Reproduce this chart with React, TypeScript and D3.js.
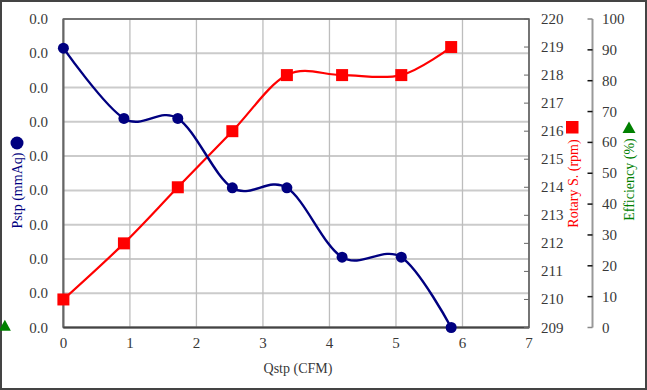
import * as d3 from "d3";

// flow rate (CFM) for each measuring point
const qstp = [0, 0.91, 1.72, 2.54, 3.36, 4.19, 5.08, 5.83];
// static pressure (mmAq) - axis labels all round to 0.0
const pstp = [0.0326, 0.0244, 0.0244, 0.0163, 0.0163, 0.0082, 0.0082, 0];
// rotary speed (rpm)
const rpm = [210, 212, 214, 216, 218, 218, 218, 219];
// efficiency (%) - only a stray point left of the axis
const effQ = [-0.88];
const effValues = [0.6];

const xTicks = [0, 1, 2, 3, 4, 5, 6, 7];
const pTicks = d3.range(0, 10).map((i) => i * 0.004);
const rpmTicks = d3.range(209, 221, 1);
const effTicks = d3.range(0, 101, 10);

const W = 647;
const H = 390;
const left = 63.4;
const right = 529;
const top = 19;
const bottom = 327.5;
const font = "'Liberation Serif', serif";
const textColor = "#383838";

const App = () => {
  const x = d3.scaleLinear().domain([0, 7]).range([left, right]);
  const yP = d3.scaleLinear().domain([0, 0.036]).range([bottom, top]);
  const yR = d3.scaleLinear().domain([209, 220]).range([bottom, top]);
  const yE = d3.scaleLinear().domain([0, 100]).range([bottom, top]);

  const smooth = d3.curveCardinal.tension(0);
  const pLine = d3
    .line<number>()
    .x((_, i) => x(qstp[i]))
    .y((d) => yP(d))
    .curve(smooth);
  const rLine = d3
    .line<number>()
    .x((_, i) => x(qstp[i]))
    .y((d) => yR(d))
    .curve(smooth);

  const effAxisX = 592.5;
  const ts = { fontFamily: font, fontSize: 15 };
  const titleStyle = { fontFamily: font, fontSize: 14 };

  return (
    <svg
      width={W}
      height={H}
      style={{ position: "absolute", left: 0, top: 0, background: "#fff", fontFamily: font }}
    >
      <rect x={1} y={1} width={W - 2} height={H - 2} fill="#fff" stroke="#444" strokeWidth={2} />

      {/* grid */}
      {pTicks.map((t) => (
        <line key={"h" + t} x1={left} x2={right} y1={yP(t)} y2={yP(t)} stroke="#cbcbcb" strokeWidth={2} />
      ))}
      {xTicks.map((t) => (
        <line key={"v" + t} x1={x(t)} x2={x(t)} y1={top} y2={bottom} stroke="#bdbdbd" strokeWidth={1.3} />
      ))}

      {/* plot frame */}
      <rect x={left} y={top} width={right - left} height={bottom - top} fill="none" stroke="#555" strokeWidth={1.5} />
      <line x1={left} x2={left} y1={top} y2={bottom} stroke="#666" strokeWidth={2} />
      <line x1={left} x2={right} y1={bottom} y2={bottom} stroke="#444" strokeWidth={2} />

      {/* left axis labels */}
      {pTicks.map((t) => (
        <text key={"pl" + t} x={48} y={yP(t) + 5} textAnchor="end" style={ts} fill={textColor}>
          {d3.format(".1f")(t)}
        </text>
      ))}

      {/* bottom axis labels */}
      {xTicks.map((t) => (
        <text key={"xl" + t} x={x(t)} y={348} textAnchor="middle" style={ts} fill={textColor}>
          {t}
        </text>
      ))}
      <text x={298} y={373} textAnchor="middle" style={titleStyle} fill={textColor}>
        Qstp (CFM)
      </text>

      {/* rpm axis */}
      {rpmTicks.map((t) => (
        <g key={"r" + t}>
          <line x1={right - 5} x2={right} y1={yR(t)} y2={yR(t)} stroke="#666" strokeWidth={1} />
          <text x={541} y={yR(t) + 5} style={ts} fill={textColor}>
            {t}
          </text>
        </g>
      ))}

      {/* efficiency axis */}
      <line x1={effAxisX} x2={effAxisX} y1={top} y2={bottom} stroke="#999" strokeWidth={2} />
      {effTicks.map((t) => (
        <g key={"e" + t}>
          <line x1={effAxisX - 5} x2={effAxisX} y1={yE(t)} y2={yE(t)} stroke={t % 100 === 0 ? "#888" : "#111"} strokeWidth={1.5} />
          <text x={602} y={yE(t) + 5} style={ts} fill={textColor}>
            {t}
          </text>
        </g>
      ))}

      {/* axis titles with markers */}
      <text transform="translate(17,190.5) rotate(-90)" dy="0.35em" textAnchor="middle" style={titleStyle} fill="#000080">
        Pstp (mmAq)
      </text>
      <circle cx={17} cy={143} r={6.5} fill="#000080" />

      <text transform="translate(573,183.5) rotate(-90)" dy="0.35em" textAnchor="middle" style={titleStyle} fill="#ff0000">
        Rotary S. (rpm)
      </text>
      <rect x={566} y={121} width={12.5} height={12.5} fill="#ff0000" />

      <text transform="translate(629,179.5) rotate(-90)" dy="0.35em" textAnchor="middle" style={titleStyle} fill="#008000">
        Efficiency (%)
      </text>
      <path d="M629,121.5 L635.5,133 L622.5,133 Z" fill="#008000" />

      {/* series */}
      <path d={rLine(rpm) ?? ""} fill="none" stroke="#ff0000" strokeWidth={2.2} />
      <path d={pLine(pstp) ?? ""} fill="none" stroke="#000080" strokeWidth={2.4} />
      {rpm.map((v, i) => (
        <rect key={"rs" + i} x={x(qstp[i]) - 6} y={yR(v) - 6} width={12} height={12} fill="#ff0000" />
      ))}
      {pstp.map((v, i) => (
        <circle key={"pc" + i} cx={x(qstp[i])} cy={yP(v)} r={5.5} fill="#000080" />
      ))}
      {effValues.map((v, i) => {
        const cx = x(effQ[i]);
        const cy = yE(v);
        return <path key={"ef" + i} d={`M${cx},${cy - 6} L${cx + 6},${cy + 5} L${cx - 6},${cy + 5} Z`} fill="#008000" />;
      })}
    </svg>
  );
};

export default App;
